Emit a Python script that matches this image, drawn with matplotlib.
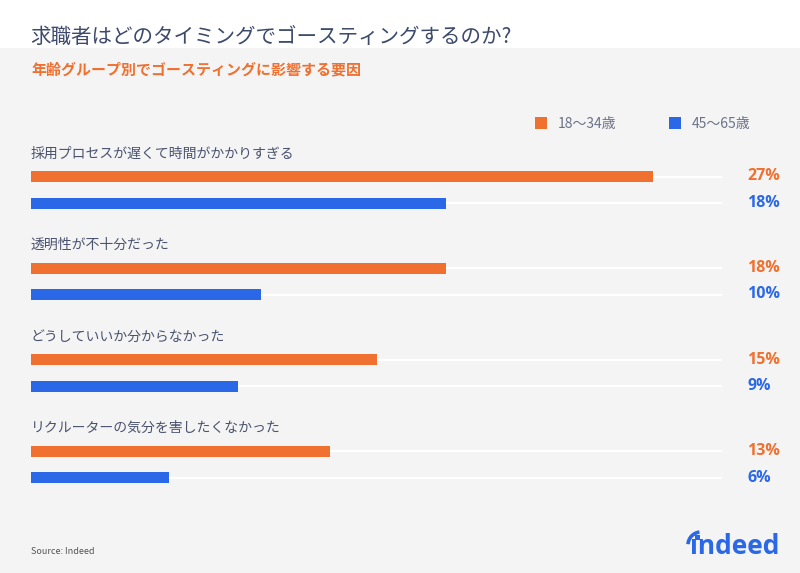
import matplotlib
matplotlib.use("Agg")
import matplotlib.pyplot as plt
from matplotlib.patches import Rectangle, Arc, Circle

plt.rcParams['font.family'] = ['Noto Sans CJK JP', 'DejaVu Sans']

categories = [
    "採用プロセスが遅くて時間がかかりすぎる",
    "透明性が不十分だった",
    "どうしていいか分からなかった",
    "リクルーターの気分を害したくなかった",
]
young = [27, 18, 15, 13]
older = [18, 10, 9, 6]
series_labels = ["18～34歳", "45～65歳"]
title = "求職者はどのタイミングでゴースティングするのか?"
subtitle = "年齢グループ別でゴースティングに影響する要因"
source = "Source: Indeed"

ORANGE = "#F07030"
BLUE = "#2B68E8"
TITLE_C = "#3d4a6b"
TEXT = "#4a536e"
BG = "#F4F4F4"

W, H = 800, 573
fig = plt.figure(figsize=(8, 5.73), dpi=100)
fig.patch.set_facecolor(BG)

def fx(px):
    return px / W

def fy(py):
    return 1 - py / H

# white top band
fig.patches.append(Rectangle((0, fy(48)), 1, 48 / H, transform=fig.transFigure,
                             facecolor="white", edgecolor="none", zorder=0))

fig.text(fx(30), fy(37), title, fontsize=14.8, color=TITLE_C, va="center", ha="left")
fig.text(fx(31), fy(69), subtitle, fontsize=10.8, color=ORANGE, fontweight="bold",
         va="center", ha="left")

# legend
for lab, col, xs in zip(series_labels, [ORANGE, BLUE], [535, 669]):
    fig.patches.append(Rectangle((fx(xs), fy(129)), 12 / W, 12 / H, transform=fig.transFigure,
                                 facecolor=col, edgecolor="none"))
    fig.text(fx(xs + 23), fy(123.5), lab, fontsize=10, color="#6b7287", va="center", ha="left")

# bars axes
spacing = 91.5
top_px = 176.5 - 0.5 * spacing
bot_px = 176.5 + 3.5 * spacing
ax = fig.add_axes([fx(31), fy(bot_px), 691 / W, (bot_px - top_px) / H])
ax.set_facecolor("none")
ax.set_xlim(0, 30)
ax.set_ylim(3.5, -0.5)
ax.axis("off")

off = 26.5 / spacing
bh = 11 / spacing
for i, (cat, a, b) in enumerate(zip(categories, young, older)):
    for y in (i, i + off):
        ax.plot([0, 30], [y, y], color="white", lw=1.5, zorder=1, solid_capstyle="butt")
    ax.barh(i, a, height=bh, color=ORANGE, zorder=2)
    ax.barh(i + off, b, height=bh, color=BLUE, zorder=2)
    ax.text(0, i - 23 / spacing, cat, fontsize=10, color=TEXT, va="center", ha="left")
    ax.text(31.1, i, f"{a}%", fontsize=11.5, color=ORANGE, fontweight="bold",
            va="center", ha="left", family=["Open Sans", "DejaVu Sans"])
    ax.text(31.1, i + off, f"{b}%", fontsize=11.5, color=BLUE, fontweight="bold",
            va="center", ha="left", family=["Open Sans", "DejaVu Sans"])

fig.text(fx(31), fy(552), source, fontsize=6.5, color="#555555", va="center", ha="left")

# logo
fig.text(fx(779), fy(546), "\u0131ndeed", fontsize=19, color=BLUE, fontweight="bold",
         va="center", ha="right", family=["Open Sans", "DejaVu Sans"])
fig.patches.append(Arc((fx(701), fy(545)), 26 / W, 26 / H, theta1=95, theta2=175,
                       transform=fig.transFigure, color=BLUE, lw=2.6))
fig.patches.append(Rectangle((fx(694.5), fy(540)), 5 / W, 5 / H, transform=fig.transFigure,
                             facecolor=BLUE, edgecolor="none"))

fig.savefig("out.png", dpi=100, facecolor=fig.get_facecolor())
